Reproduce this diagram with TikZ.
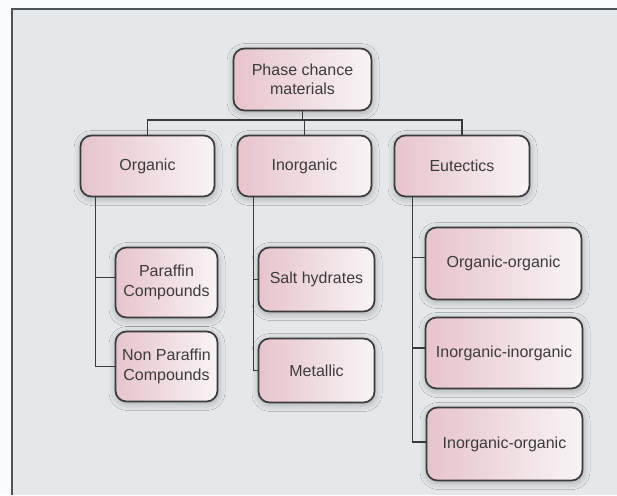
\documentclass[tikz,border=0pt]{standalone}
\usepackage{fontspec}
\setmainfont{Liberation Sans}
\usetikzlibrary{shadows.blur}

\definecolor{pagebg}{HTML}{FAFBFC}
\definecolor{panelbg}{HTML}{E4E8EB}
\definecolor{framecol}{HTML}{4E5357}
\definecolor{boxpink}{HTML}{E7C4CB}
\definecolor{boxlight}{HTML}{F8F4F6}
\definecolor{edgecol}{HTML}{3A3A3A}
\definecolor{textcol}{HTML}{3C3C3C}

\tikzset{
  catbox/.style={draw=edgecol, line width=1.7pt, rounded corners=11pt,
    left color=boxpink, right color=boxlight, text=textcol,
    align=center, inner sep=0pt,
    font=\fontsize{16}{19.5}\selectfont,
    blur shadow={shadow blur radius=7pt, shadow xshift=0.5pt,
      shadow yshift=-2pt, shadow opacity=28, shadow blur steps=16}},
  link/.style={draw=edgecol, line width=1.6pt},
}

\begin{document}
\begin{tikzpicture}[x=1pt, y=-1pt]
  % page and panel
  \fill[pagebg] (0,0) rectangle (617,495);
  \useasboundingbox (0,0) rectangle (617,495);
  \fill[panelbg] (12,9.5) rectangle (617,495);
  \draw[framecol, line width=2pt] (12,495) -- (12,9.5) -- (617,9.5);

  % root
  \node[catbox, minimum width=138pt, minimum height=62pt] (pcm) at (302.5,79.5)
    {Phase chance\\materials};

  % main classes
  \node[catbox, minimum width=134pt, minimum height=61pt] (org)   at (147.5,166) {Organic};
  \node[catbox, minimum width=134pt, minimum height=61pt] (inorg) at (304.5,166) {Inorganic};
  \node[catbox, minimum width=135pt, minimum height=61pt] (eut)   at (462,166)   {Eutectics};

  % organic subclasses
  \node[catbox, minimum width=102pt, minimum height=70pt] (par)  at (166.5,282.5) {Paraffin\\Compounds};
  \node[catbox, minimum width=102pt, minimum height=70pt] (npar) at (166.5,366.5) {Non Paraffin\\Compounds};

  % inorganic subclasses
  \node[catbox, minimum width=116pt, minimum height=64pt] (salt)  at (316.5,279.5) {Salt hydrates};
  \node[catbox, minimum width=116pt, minimum height=64pt] (metal) at (316.5,370.5) {Metallic};

  % eutectic subclasses
  \node[catbox, minimum width=156pt, minimum height=72pt] (oo) at (503.5,263.5) {Organic-organic};
  \node[catbox, minimum width=157pt, minimum height=71pt] (ii) at (504,353)     {Inorganic-inorganic};
  \node[catbox, minimum width=156pt, minimum height=73pt] (io) at (504.5,444)   {Inorganic-organic};

  % tree connectors
  \coordinate (barlevel) at (305,120);
  \draw[link] (org.north) |- (barlevel) -| (eut.north);
  \draw[link] (pcm.south) -- (pcm.south |- barlevel);
  \draw[link] (inorg.north) -- (inorg.north |- barlevel);

  \coordinate (orgtrunk) at ([xshift=16pt]org.south west);
  \draw[link] (orgtrunk) |- ([yshift=5pt]par.west);
  \draw[link] (orgtrunk) |- (npar.west);

  \coordinate (inorgtrunk) at ([xshift=17pt]inorg.south west);
  \draw[link] (inorgtrunk) |- (salt.west);
  \draw[link] (inorgtrunk) |- (metal.west);

  \coordinate (euttrunk) at ([xshift=19pt]eut.south west);
  \draw[link] (euttrunk) |- ([yshift=6pt]oo.west);
  \draw[link] (euttrunk) |- ([yshift=5pt]ii.west);
  \draw[link] (euttrunk) |- ([yshift=2pt]io.west);
\end{tikzpicture}
\end{document}
